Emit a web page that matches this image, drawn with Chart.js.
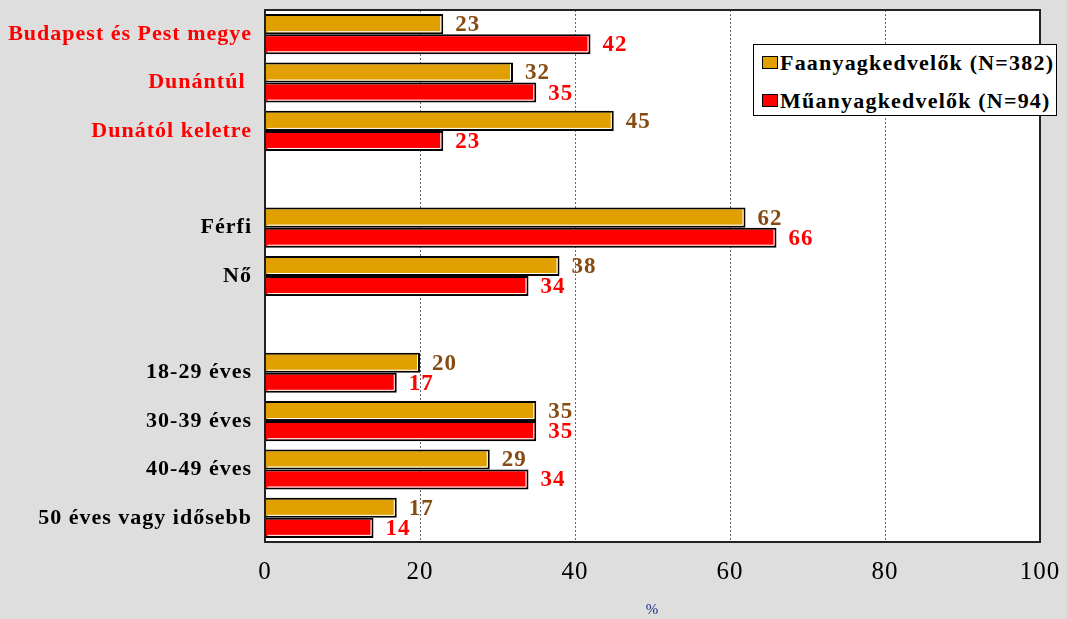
<!DOCTYPE html>
<html>
<head>
<meta charset="utf-8">
<script src="https://cdn.jsdelivr.net/npm/chart.js@4.4.0/dist/chart.umd.min.js"></script>
<style>
  html, body { margin: 0; padding: 0; background: #dedede; }
  #wrap { position: relative; width: 1067px; height: 619px; }
  #legend {
    position: absolute; left: 753px; top: 44px; width: 304px; height: 72px;
    background: #fff; border: 1px solid #000; box-sizing: border-box;
    font: bold 22px "Liberation Serif", serif; color: #000;
  }
  #legend .row { position: absolute; left: 8px; height: 26px; line-height: 26px; white-space: nowrap; letter-spacing: 1.2px; }
  #legend .sw { display: inline-block; width: 14px; height: 11px; border: 1.5px solid #000; vertical-align: 1px; margin-right: 2px; }
</style>
</head>
<body>
<div id="wrap">
  <canvas id="myChart" width="1067" height="619"></canvas>
  <div id="legend">
    <div class="row" style="top:5px"><span class="sw" style="background:#dfa000"></span>Faanyagkedvelők (N=382)</div>
    <div class="row" style="top:43px"><span class="sw" style="background:#ff0000"></span>Műanyagkedvelők (N=94)</div>
  </div>
</div>
<script>
// empty strings are spacer rows between the groups
var categories = ['Budapest és Pest megye', 'Dunántúl ', 'Dunától keletre', '', 'Férfi', 'Nő', '', '18-29 éves', '30-39 éves', '40-49 éves', '50 éves vagy idősebb'];
var faValues = [23, 32, 45, null, 62, 38, null, 20, 35, 29, 17];
var muValues = [42, 35, 23, null, 66, 34, null, 17, 35, 34, 14];
var xTicks = [0, 20, 40, 60, 80, 100];

var redLabels = ['Budapest és Pest megye', 'Dunántúl ', 'Dunától keletre'];
var serif = '"Liberation Serif", "Times New Roman", serif';

// white plot area with a black frame
var plotArea = {
    id: 'plotArea',
    beforeDraw: function (chart) {
        var a = chart.chartArea, ctx = chart.ctx;
        ctx.letterSpacing = '1px';
        ctx.save();
        ctx.fillStyle = '#fff';
        ctx.fillRect(a.left, a.top, a.right - a.left, a.bottom - a.top);
        ctx.restore();
    },
    afterDatasetsDraw: function (chart) {
        var a = chart.chartArea, ctx = chart.ctx;
        ctx.save();
        ctx.strokeStyle = '#222';
        ctx.lineWidth = 2;
        ctx.strokeRect(a.left, a.top, a.right - a.left, a.bottom - a.top);
        ctx.restore();
    }
};

// thin white inner edge on right and bottom of every bar, plus the value text
var valueLabels = {
    id: 'valueLabels',
    afterDatasetsDraw: function (chart) {
        var ctx = chart.ctx;
        ctx.save();
        ctx.strokeStyle = '#fff';
        ctx.lineWidth = 1;
        chart.data.datasets.forEach(function (ds, di) {
            chart.getDatasetMeta(di).data.forEach(function (bar, i) {
                if (ds.data[i] == null) return;
                var bot = bar.y + bar.height / 2;
                var top = bar.y - bar.height / 2;
                ctx.beginPath();
                ctx.moveTo(bar.x - 2.5, top + 2);
                ctx.lineTo(bar.x - 2.5, bot - 2.5);
                ctx.lineTo(bar.base + 2, bot - 2.5);
                ctx.stroke();
            });
        });
        ctx.font = 'bold 23px ' + serif;
        ctx.textAlign = 'left';
        ctx.textBaseline = 'middle';
        chart.data.datasets.forEach(function (ds, di) {
            ctx.fillStyle = ds.labelColor;
            chart.getDatasetMeta(di).data.forEach(function (bar, i) {
                if (ds.data[i] == null) return;
                ctx.fillText(ds.data[i], bar.x + 12, bar.y + 1);
            });
        });
        ctx.restore();
    }
};

var config = {
    type: 'bar',
    data: {
        labels: categories,
        datasets: [{
            label: 'Faanyagkedvelők (N=382)',
            data: faValues,
            backgroundColor: '#dfa000',
            borderColor: '#000',
            borderWidth: 2,
            labelColor: '#854b12'
        }, {
            label: 'Műanyagkedvelők (N=94)',
            data: muValues,
            backgroundColor: '#ff0000',
            borderColor: '#000',
            borderWidth: 2,
            labelColor: '#ff0000'
        }]
    },
    options: {
        indexAxis: 'y',
        responsive: false,
        animation: false,
        layout: { padding: { left: 0, right: 27, top: 10, bottom: 0 } },
        datasets: { bar: { categoryPercentage: 0.83, barPercentage: 1 } },
        plugins: { legend: { display: false }, tooltip: { enabled: false } },
        scales: {
            x: {
                min: 0,
                max: 100,
                afterBuildTicks: function (scale) {
                    scale.ticks = xTicks.map(function (v) { return { value: v }; });
                },
                afterFit: function (scale) {
                    scale.height = 77;
                    scale.paddingLeft = 0;
                    scale.paddingRight = 0;
                },
                grid: {
                    drawTicks: false,
                    color: function (c) { return (c.tick.value === 0 || c.tick.value === 100) ? 'rgba(0,0,0,0)' : '#666'; },
                    lineWidth: 1
                },
                border: { display: false, dash: [2, 2] },
                ticks: { padding: 15, color: '#000', font: { family: serif, size: 25 } },
                title: {
                    display: true,
                    text: '%',
                    color: '#1a2a80',
                    font: { family: serif, size: 15 },
                    padding: { top: 0, bottom: 0 }
                }
            },
            y: {
                afterFit: function (scale) {
                    scale.width = 265;
                    scale.paddingTop = 0;
                    scale.paddingBottom = 0;
                },
                grid: { display: false },
                border: { display: false },
                ticks: {
                    padding: 5,
                    autoSkip: false,
                    color: function (c) { return redLabels.indexOf(categories[c.index]) >= 0 ? '#ff0000' : '#000'; },
                    font: { family: serif, size: 22, weight: 'bold' }
                }
            }
        }
    },
    plugins: [plotArea, valueLabels]
};

var chart = new Chart(document.getElementById('myChart'), config);
</script>
</body>
</html>
